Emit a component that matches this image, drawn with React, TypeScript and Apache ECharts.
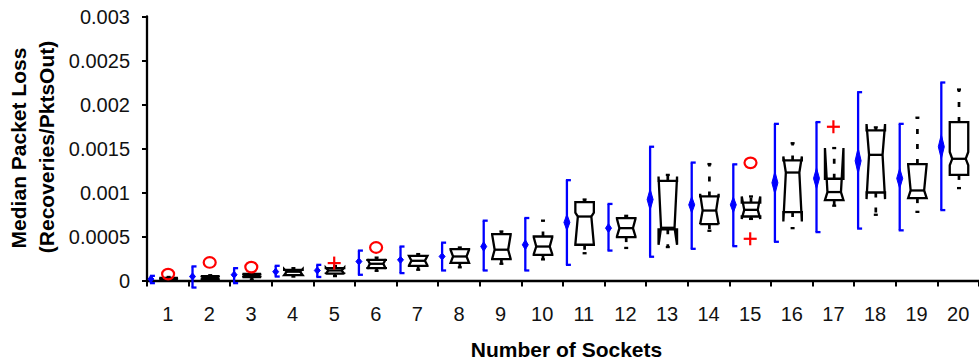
import React, { useEffect, useRef } from "react";
import * as echarts from "echarts";

// Socket counts on the x axis
const categories = [
  "1", "2", "3", "4", "5", "6", "7", "8", "9", "10",
  "11", "12", "13", "14", "15", "16", "17", "18", "19", "20",
];
const yTickLabels = ["0", "0.0005", "0.001", "0.0015", "0.002", "0.0025", "0.003"];

// Blue error bars: mean loss with lower / upper bound
const meanLoss = [
  0.000016, 0.000045, 0.000065, 0.0001, 0.000114, 0.000216, 0.000235, 0.000273, 0.000386, 0.000406,
  0.00066, 0.000595, 0.00092, 0.00086, 0.00086, 0.00111, 0.00116, 0.00136, 0.00116, 0.00152,
];
const meanLow = [
  -0.00003, -0.00008, -0.00003, 0.000045, 0.00004, 0.000065, 0.000084, 0.000114, 0.000114, 0.000114,
  0.000178, 0.00034, 0.00027, 0.00036, 0.00039, 0.00044, 0.00055, 0.00059, 0.00057, 0.0008,
];
const meanHigh = [
  0.000053, 0.00016, 0.00014, 0.000167, 0.000178, 0.00034, 0.000386, 0.00043, 0.00068, 0.00071,
  0.00114, 0.00087, 0.00152, 0.00134, 0.00132, 0.00178, 0.0018, 0.00214, 0.00178, 0.00225,
];

// Notched box plots of the median loss
const boxQ1 = [
  0.00001, 0.00001, 0.00004, 0.00006, 0.000078, 0.00014, 0.000167, 0.0002, 0.000243, 0.000292,
  0.000406, 0.000493, 0.000582, 0.000641, 0.000727, 0.000777, 0.000913, 0.001, 0.000936, 0.0012,
];
const boxMedian = [
  0.00002, 0.00003, 0.00006, 0.0001, 0.000114, 0.00019, 0.000224, 0.000273, 0.00035, 0.000386,
  0.000727, 0.000595, 0.000599, 0.000795, 0.000803, 0.001227, 0.001005, 0.001428, 0.001023, 0.001383,
];
const boxQ3 = [
  0.00003, 0.00005, 0.000075, 0.00012, 0.00014, 0.000235, 0.00028, 0.000357, 0.000527, 0.0005,
  0.000891, 0.000709, 0.001133, 0.000955, 0.000886, 0.001364, 0.001156, 0.001705, 0.001323, 0.0018,
];
const notchLow = [
  0.00001, 0.00001, 0.00004, 0.00006, 0.000075, 0.00013, 0.00017, 0.0002, 0.000245, 0.0003,
  0.00041, 0.0005, 0.000406, 0.00064, 0.0007, 0.00067, 0.000913, 0.000925, 0.000936, 0.00131,
];
const notchHigh = [
  0.00003, 0.00005, 0.000075, 0.00013, 0.000145, 0.000245, 0.00028, 0.00035, 0.00052, 0.00049,
  0.00077, 0.0007, 0.001182, 0.000985, 0.000955, 0.001409, 0.001505, 0.001777, 0.00132, 0.00146,
];
const whiskerLow = [
  0, 0, 0.00001, 0.000045, 0.00005, 0.00011, 0.000122, 0.00015, 0.00019, 0.00024,
  0.00031, 0.00037, 0.00038, 0.000565, 0.0007, 0.000595, 0.00085, 0.000747, 0.00078, 0.00105,
];
const whiskerHigh = [
  0.00004, 0.00006, 0.00008, 0.00014, 0.000165, 0.00026, 0.0003, 0.000375, 0.000557, 0.00068,
  0.00092, 0.000735, 0.0012, 0.001323, 0.000955, 0.00156, 0.001505, 0.00174, 0.00185, 0.00217,
];

// Outliers: [category index, value]
const circleOutliers: [number, number][] = [
  [0, 0.000073], [1, 0.000205], [2, 0.000152], [5, 0.000375], [14, 0.001337],
];
const plusOutliers: [number, number][] = [
  [4, 0.000198], [14, 0.000474], [16, 0.001747],
];

const FONT = '"Liberation Sans", Arial, Helvetica, sans-serif';
const BLUE = "#0000ff";
const RED = "#ff0000";

export default function App() {
  const ref = useRef<HTMLDivElement>(null);

  useEffect(() => {
    if (!ref.current) return;
    const chart = echarts.init(ref.current, undefined, { renderer: "svg" });

    const errorData = categories.map((_, i) => [i, meanLoss[i], meanLow[i], meanHigh[i]]);
    const boxData = categories.map((_, i) => [
      i, boxQ1[i], boxMedian[i], boxQ3[i], notchLow[i], notchHigh[i], whiskerLow[i], whiskerHigh[i],
    ]);

    const option: any = {
      animation: false,
      grid: { left: 147, top: 16.5, width: 837, height: 264 },
      xAxis: {
        type: "category",
        data: categories,
        boundaryGap: true,
        axisLine: { lineStyle: { color: "#000", width: 2.3 } },
        axisTick: { show: true, length: 6, interval: 0, lineStyle: { color: "#000", width: 2 } },
        axisLabel: { interval: 0, color: "#111", fontSize: 20, fontFamily: FONT, margin: 23 },
        splitLine: { show: false },
      },
      yAxis: {
        type: "value",
        min: 0,
        max: 0.003,
        interval: 0.0005,
        axisLine: { show: true, lineStyle: { color: "#000", width: 2.3 } },
        axisTick: { show: true, length: 5, lineStyle: { color: "#000", width: 2 } },
        axisLabel: {
          color: "#111",
          fontSize: 20,
          fontFamily: FONT,
          margin: 17,
          formatter: (v: number) => yTickLabels[Math.round(v / 0.0005)],
        },
        splitLine: { show: false },
      },
      graphic: [
        {
          type: "text",
          x: 18.5,
          y: 148,
          rotation: Math.PI / 2,
          style: {
            text: "Median Packet Loss",
            font: `bold 21px ${FONT}`,
            fill: "#000",
            textAlign: "center",
            textVerticalAlign: "middle",
            align: "center",
            verticalAlign: "middle",
          },
        },
        {
          type: "text",
          x: 46.5,
          y: 147,
          rotation: Math.PI / 2,
          style: {
            text: "(Recoveries/PktsOut)",
            font: `bold 21px ${FONT}`,
            fill: "#000",
            textAlign: "center",
            textVerticalAlign: "middle",
            align: "center",
            verticalAlign: "middle",
          },
        },
        {
          type: "text",
          x: 566.5,
          y: 349,
          style: {
            text: "Number of Sockets",
            font: `bold 21px ${FONT}`,
            fill: "#000",
            textAlign: "center",
            textVerticalAlign: "middle",
            align: "center",
            verticalAlign: "middle",
          },
        },
      ],
      series: [
        {
          // blue mean-with-range bars, bracket shaped with a diamond at the mean
          type: "custom",
          data: errorData,
          encode: { x: 0, y: 1 },
          z: 3,
          renderItem: (_params: any, api: any) => {
            const i = api.value(0);
            const band = api.size([1, 0])[0];
            const cx = api.coord([i, 0])[0];
            const x = cx - band * 0.406;
            const ym = api.coord([i, api.value(1)])[1];
            const ylo = api.coord([i, api.value(2)])[1];
            const yhi = api.coord([i, api.value(3)])[1];
            const len = Math.abs(ylo - yhi);
            const dh = Math.max(7, len * 0.19) / 2;
            const dw = 3;
            const lineStyle = { stroke: BLUE, lineWidth: 2.3 };
            return {
              type: "group",
              children: [
                { type: "line", shape: { x1: x, y1: yhi, x2: x, y2: ylo }, style: lineStyle },
                { type: "line", shape: { x1: x - 1, y1: yhi, x2: x + 4, y2: yhi }, style: lineStyle },
                { type: "line", shape: { x1: x - 1, y1: ylo, x2: x + 4, y2: ylo }, style: lineStyle },
                {
                  type: "polygon",
                  shape: { points: [[x, ym - dh], [x + dw, ym], [x, ym + dh], [x - dw, ym]] },
                  style: { fill: BLUE, stroke: BLUE, lineWidth: 1 },
                },
              ],
            };
          },
        },
        {
          // notched boxes with dashed whiskers
          type: "custom",
          data: boxData,
          encode: { x: 0, y: 2 },
          z: 4,
          renderItem: (_params: any, api: any) => {
            const i = api.value(0);
            const c = api.coord([i, 0])[0] + 0.8;
            const y = (k: number) => api.coord([i, api.value(k)])[1];
            const q1 = y(1), med = y(2), q3 = y(3), nlo = y(4), nhi = y(5), wlo = y(6), whi = y(7);
            const hw = 9.25;
            const d = 2.5;
            const L = c - hw;
            const R = c + hw;
            const black = { stroke: "#000", lineWidth: 2.3 };
            const dashed = { stroke: "#000", lineWidth: 2.7, lineDash: [5, 10], fill: "none" };
            const children: any[] = [
              {
                type: "polygon",
                shape: {
                  points: [
                    [L, q1], [L, nlo], [L + d, med], [L, nhi], [L, q3],
                    [R, q3], [R, nhi], [R - d, med], [R, nlo], [R, q1],
                  ],
                },
                style: { fill: "none", stroke: "#000", lineWidth: 2.3, lineJoin: "miter", miterLimit: 3 },
              },
              { type: "line", shape: { x1: L + d, y1: med, x2: R - d, y2: med }, style: black },
            ];
            if (whi < q3 - 0.5) {
              children.push({ type: "line", shape: { x1: c, y1: q3, x2: c, y2: whi }, style: dashed });
              children.push({ type: "line", shape: { x1: c - 2, y1: whi, x2: c + 2, y2: whi }, style: black });
            }
            if (wlo > q1 + 0.5) {
              children.push({ type: "line", shape: { x1: c, y1: q1, x2: c, y2: wlo }, style: dashed });
              children.push({ type: "line", shape: { x1: c - 2, y1: wlo, x2: c + 2, y2: wlo }, style: black });
            }
            return { type: "group", children };
          },
        },
        {
          // circle outliers
          type: "custom",
          data: circleOutliers,
          encode: { x: 0, y: 1 },
          z: 5,
          renderItem: (_params: any, api: any) => {
            const p = api.coord([api.value(0), api.value(1)]);
            return {
              type: "ellipse",
              shape: { cx: p[0] + 0.3, cy: p[1], rx: 6, ry: 5.3 },
              style: { fill: "none", stroke: RED, lineWidth: 2.2 },
            };
          },
        },
        {
          // plus outliers
          type: "custom",
          data: plusOutliers,
          encode: { x: 0, y: 1 },
          z: 5,
          renderItem: (_params: any, api: any) => {
            const p = api.coord([api.value(0), api.value(1)]);
            const s = 6.5;
            const st = { stroke: RED, lineWidth: 2.2 };
            return {
              type: "group",
              children: [
                { type: "line", shape: { x1: p[0] - s, y1: p[1], x2: p[0] + s, y2: p[1] }, style: st },
                { type: "line", shape: { x1: p[0], y1: p[1] - s, x2: p[0], y2: p[1] + s }, style: st },
              ],
            };
          },
        },
      ],
    };

    chart.setOption(option);
    return () => chart.dispose();
  }, []);

  return (
    <div
      ref={ref}
      style={{ position: "fixed", left: 0, top: 0, width: 979, height: 360, background: "#fff" }}
    />
  );
}
